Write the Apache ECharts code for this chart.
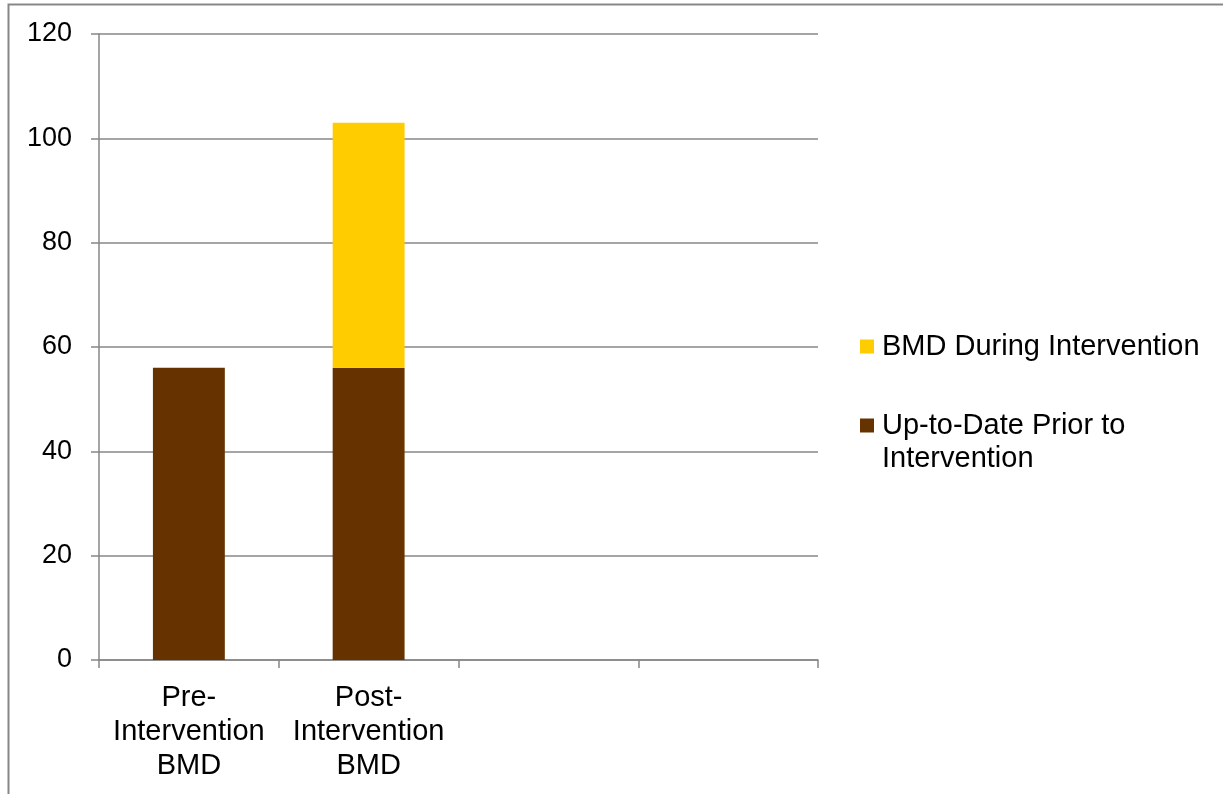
<!DOCTYPE html>
<html>
<head>
<meta charset="utf-8">
<script src="https://cdn.jsdelivr.net/npm/echarts@6/dist/echarts.min.js"></script>
<style>
html,body{margin:0;padding:0;background:#fff;}
#chart{width:1223px;height:794px;}
</style>
</head>
<body>
<div id="chart"></div>
<script>
const categories = ['Pre-\nIntervention\nBMD', 'Post-\nIntervention\nBMD', '', ''];
const upToDatePrior = [56, 56, '-', '-'];
const duringIntervention = ['-', 47, '-', '-'];
const yTicks = { min: 0, max: 120, interval: 20 };
const seriesNames = ['Up-to-Date Prior to Intervention', 'BMD During Intervention'];

const FONT = '"Liberation Sans", Arial, sans-serif';
const GRAY = '#878787';
const chart = echarts.init(document.getElementById('chart'), null, { renderer: 'canvas' });
chart.setOption({
  animation: false,
  backgroundColor: '#fff',
  textStyle: { fontFamily: FONT },
  graphic: [{
    type: 'rect', silent: true,
    shape: { x: 8.5, y: 4.5, width: 1400, height: 900 },
    style: { fill: null, stroke: GRAY, lineWidth: 2 }
  }],
  grid: { left: 99, top: 34, right: 405, bottom: 134, containLabel: false },
  legend: [{
    data: [seriesNames[1]],
    orient: 'vertical', left: 860, top: 330, padding: 0,
    itemWidth: 14, itemHeight: 14, icon: 'rect',
    textStyle: { fontFamily: FONT, fontSize: 29, color: '#000', lineHeight: 33, padding: [0, 0, 0, 3] }
  }, {
    data: [seriesNames[0]],
    orient: 'vertical', left: 860, top: 376, padding: 0,
    itemWidth: 14, itemHeight: 14, icon: 'rect',
    formatter: function () { return '\nUp-to-Date Prior to\nIntervention'; },
    textStyle: { fontFamily: FONT, fontSize: 29, color: '#000', lineHeight: 33, padding: [0, 0, 0, 3] }
  }],
  xAxis: {
    type: 'category',
    data: categories,
    boundaryGap: true,
    axisLine: { show: true, lineStyle: { color: GRAY, width: 1.5 } },
    axisTick: { show: true, length: 8, alignWithLabel: false, lineStyle: { color: GRAY, width: 1.5 } },
    axisLabel: { fontFamily: FONT, fontSize: 29, color: '#000', lineHeight: 34, margin: 21, interval: 0 },
    splitLine: { show: false }
  },
  yAxis: {
    type: 'value',
    min: yTicks.min, max: yTicks.max, interval: yTicks.interval,
    axisLine: { show: true, lineStyle: { color: GRAY, width: 1.5 } },
    axisTick: { show: true, length: 8, lineStyle: { color: GRAY, width: 1.5 } },
    axisLabel: { fontFamily: FONT, fontSize: 27, color: '#000', margin: 27 },
    splitLine: { show: true, lineStyle: { color: GRAY, width: 1.5 } }
  },
  series: [{
    name: seriesNames[0], type: 'bar', stack: 'total',
    data: upToDatePrior, barWidth: '40%',
    itemStyle: { color: '#663300' }
  }, {
    name: seriesNames[1], type: 'bar', stack: 'total',
    data: duringIntervention, barWidth: '40%',
    itemStyle: { color: '#FFCC00' }
  }]
});
</script>
</body>
</html>
